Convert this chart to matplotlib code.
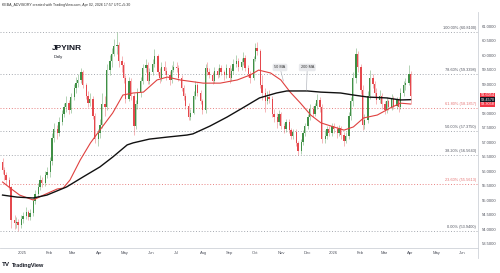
import numpy as np
import pandas as pd
import matplotlib
matplotlib.use("Agg")
import matplotlib.pyplot as plt
import matplotlib.dates as mdates
from matplotlib.lines import Line2D

plt.rcParams["font.family"] = ["Liberation Sans", "DejaVu Sans"]

# ---- candle data, one candle every 2 business days from 2024-12-09 ----
first_open = 56.30
close = [
    # Dec 2024
    56.05, 55.85, 55.70, 55.45, 54.30, 54.20, 54.25, 54.15, 54.35,
    # Jan 2025
    54.45, 54.60, 54.40, 54.55, 54.95, 55.20, 55.45, 55.70, 55.60, 55.85, 55.95,
    # Feb
    56.35, 57.15, 57.45, 57.30, 57.70, 57.95, 58.20, 58.35, 58.10, 58.55,
    # Mar
    58.85, 59.05, 59.15, 59.40, 58.95, 58.60, 58.35, 58.50, 57.90, 57.10, 57.30,
    # Apr
    57.60, 58.30, 58.20, 59.50, 59.80, 60.05, 60.30, 60.35, 59.80, 59.65, 59.20,
    # May
    58.50, 59.10, 58.60, 57.55, 58.30, 58.70, 59.10, 59.55, 59.65, 59.10, 59.40,
    # Jun
    59.70, 59.95, 59.40, 59.20, 59.60, 59.45, 59.30, 59.15, 59.50, 59.60,
    # Jul
    59.55, 59.20, 58.85, 58.60, 58.25, 57.85, 58.00, 58.60, 58.95, 58.70, 58.40, 58.10,
    # Aug
    59.55, 59.40, 59.30, 59.10, 59.45, 59.30, 59.55, 59.40, 59.30, 59.55,
    # Sep
    59.20, 59.45, 59.70, 59.80, 59.60, 59.75, 59.90, 59.55, 59.35, 59.20, 59.85,
    # Oct
    60.25, 60.15, 58.95, 58.70, 58.40, 58.55, 58.50, 57.95, 57.85, 57.70, 57.95, 57.55,
    # Nov
    57.45, 57.70, 57.40, 57.20, 57.35, 56.95, 56.70, 57.00, 57.30, 57.55,
    # Dec
    57.85, 58.15, 57.95, 58.25, 58.45, 58.20, 57.10, 57.20, 57.45, 57.30, 57.55,
    # Jan 2026
    57.45, 57.30, 57.50, 57.25, 57.05, 57.20, 57.90, 58.40, 59.20, 60.05, 59.60,
    # Feb
    58.80, 57.60, 57.75, 58.60, 59.20, 59.00, 58.70, 58.45, 58.60, 58.30,
    # Mar
    58.10, 58.40, 58.20, 58.50, 58.25, 58.45, 58.20, 58.70, 58.95, 59.05, 59.35,
    # Apr
    58.59,
]
high = [
    56.45, 56.15, 55.95, 55.80, 55.50, 54.50, 54.40, 54.35, 54.50,
    54.60, 54.75, 54.65, 54.70, 55.10, 55.35, 55.60, 55.85, 55.80, 56.00, 56.15,
    56.50, 57.30, 57.65, 57.60, 57.85, 58.10, 58.35, 58.60, 58.45, 58.70,
    59.00, 59.25, 59.35, 59.55, 59.50, 59.05, 58.75, 58.70, 58.60, 58.00, 57.45,
    57.80, 58.70, 58.60, 59.70, 60.00, 60.25, 60.55, 60.81, 60.45, 59.95, 59.75,
    59.30, 59.25, 59.20, 58.70, 58.45, 58.85, 59.25, 59.70, 59.85, 59.75, 59.55,
    59.85, 60.20, 60.05, 59.55, 59.75, 59.80, 59.60, 59.45, 59.65, 59.80,
    59.75, 59.65, 59.30, 58.95, 58.70, 58.35, 58.15, 58.75, 59.10, 59.05, 58.80, 58.50,
    59.70, 59.75, 59.55, 59.40, 59.60, 59.55, 59.70, 59.65, 59.50, 59.70,
    59.65, 59.55, 59.85, 60.00, 59.90, 59.90, 60.10, 60.00, 59.65, 59.45, 59.95,
    60.40, 60.45, 60.20, 59.30, 58.85, 58.75, 58.80, 58.60, 58.15, 58.00, 58.10, 58.05,
    57.65, 57.80, 57.80, 57.50, 57.45, 57.45, 57.05, 57.10, 57.40, 57.65,
    57.95, 58.30, 58.25, 58.35, 58.65, 58.55, 58.30, 57.40, 57.55, 57.55, 57.65,
    57.65, 57.55, 57.60, 57.55, 57.35, 57.35, 58.05, 58.55, 59.40, 60.24, 60.15,
    59.70, 58.95, 57.95, 58.75, 59.50, 59.35, 59.10, 58.85, 58.80, 58.70,
    58.40, 58.55, 58.50, 58.65, 58.60, 58.55, 58.55, 58.85, 59.10, 59.20, 59.65,
    59.45,
]
low = [
    55.90, 55.70, 55.55, 55.35, 54.05, 54.00, 54.05, 53.94, 54.05,
    54.20, 54.35, 54.30, 54.30, 54.45, 54.85, 55.10, 55.35, 55.45, 55.50, 55.75,
    55.80, 56.20, 57.00, 57.10, 57.20, 57.60, 57.85, 58.05, 57.95, 58.00,
    58.45, 58.70, 58.90, 59.05, 58.85, 58.50, 58.20, 58.25, 57.80, 56.95, 56.85,
    57.15, 57.50, 57.90, 58.10, 59.30, 59.60, 59.95, 60.05, 59.60, 59.40, 59.05,
    58.35, 58.40, 58.45, 57.25, 57.45, 58.15, 58.55, 59.00, 59.40, 59.00, 59.00,
    59.30, 59.60, 59.30, 59.05, 59.10, 59.35, 59.15, 58.95, 59.05, 59.40,
    59.40, 59.10, 58.75, 58.45, 58.15, 57.75, 57.75, 57.95, 58.50, 58.60, 58.30, 57.95,
    58.00, 59.30, 59.20, 59.00, 59.05, 59.20, 59.25, 59.30, 59.15, 59.20,
    59.05, 59.10, 59.35, 59.60, 59.45, 59.50, 59.65, 59.45, 59.25, 59.05, 59.15,
    59.80, 60.00, 58.85, 58.45, 58.05, 58.30, 58.35, 57.85, 57.70, 57.50, 57.60, 57.45,
    57.30, 57.35, 57.30, 57.10, 57.10, 56.85, 56.55, 56.60, 56.90, 57.20,
    57.45, 57.75, 57.85, 57.90, 58.15, 58.05, 56.95, 56.95, 57.10, 57.20, 57.20,
    57.30, 57.15, 57.20, 57.10, 56.85, 56.95, 57.10, 57.75, 58.25, 59.05, 59.40,
    58.65, 57.40, 57.45, 57.65, 58.50, 58.85, 58.55, 58.30, 58.35, 58.15,
    57.95, 58.00, 58.10, 58.10, 58.15, 58.15, 58.05, 58.15, 58.60, 58.80, 58.95,
    58.30,
]

# ---- moving averages ----
ma50_dates = ["2024-12-09", "2024-12-18", "2024-12-29", "2025-01-14", "2025-01-26",
              "2025-02-11", "2025-02-18", "2025-02-26", "2025-03-10", "2025-03-22",
              "2025-04-02", "2025-04-17", "2025-04-29", "2025-05-11", "2025-05-23",
              "2025-06-08", "2025-06-20", "2025-07-05", "2025-08-01", "2025-08-21",
              "2025-09-10", "2025-09-25", "2025-10-05", "2025-10-19", "2025-10-31",
              "2025-11-11", "2025-11-23", "2025-12-05", "2025-12-17", "2026-01-01",
              "2026-01-13", "2026-01-24", "2026-02-05", "2026-02-21", "2026-03-08",
              "2026-03-20", "2026-04-01"]
ma50_vals = [55.62, 55.41, 55.17, 55.00, 55.17, 55.38, 55.41, 55.69, 56.38, 56.97,
             57.41, 58.00, 58.62, 58.69, 58.72, 59.14, 59.24, 59.14, 59.03, 59.03,
             59.14, 59.31, 59.48, 59.38, 59.14, 58.72, 58.34, 57.93, 57.66, 57.52,
             57.41, 57.52, 57.83, 57.93, 58.17, 58.34, 58.31]
ma200_dates = ["2024-12-09", "2024-12-26", "2025-01-14", "2025-01-30", "2025-02-22",
               "2025-03-13", "2025-04-02", "2025-04-17", "2025-05-04", "2025-05-11",
               "2025-05-30", "2025-06-20", "2025-07-13", "2025-07-20", "2025-08-09",
               "2025-08-29", "2025-09-16", "2025-10-06", "2025-10-26", "2025-11-07",
               "2025-12-01", "2025-12-17", "2026-01-09", "2026-01-24", "2026-02-10",
               "2026-03-04", "2026-03-20", "2026-04-01"]
ma200_vals = [55.17, 55.10, 55.07, 55.17, 55.45, 55.79, 56.14, 56.48, 56.90, 56.97,
              57.10, 57.17, 57.24, 57.28, 57.55, 57.86, 58.17, 58.52, 58.69, 58.76,
              58.76, 58.72, 58.69, 58.62, 58.55, 58.52, 58.45, 58.46]

# ---- fibonacci retracement ----
fib_low, fib_high = 53.94, 60.81
fib_ratios = [0.0, 0.236, 0.382, 0.5, 0.618, 0.786, 1.0]
fib_red = [0.236, 0.618]

# ---- axes ticks ----
month_ticks = ["2025-01-01", "2025-02-01", "2025-03-01", "2025-04-01", "2025-05-01",
               "2025-06-01", "2025-07-01", "2025-08-01", "2025-09-01", "2025-10-01",
               "2025-11-01", "2025-12-01", "2026-01-01", "2026-02-01", "2026-03-01",
               "2026-04-01", "2026-05-01", "2026-06-01"]
month_labels = ["2025", "Feb", "Mar", "Apr", "May", "Jun", "Jul", "Aug", "Sep", "Oct",
                "Nov", "Dec", "2026", "Feb", "Mar", "Apr", "May", "Jun"]
price_ticks = [53.5, 54.0, 54.5, 55.0, 55.5, 56.0, 56.5, 57.0, 57.5, 58.0,
               59.0, 59.5, 60.0, 60.5, 61.0]

last_labels = [(58.6054, "#f23645"), (58.3058, "#f23645"), (58.4570, "#131722")]

UP = "#3f8f45"
DOWN = "#e5484d"

dates = mdates.date2num(pd.bdate_range("2024-12-09", periods=len(close), freq="2B"))
c = np.array(close)
o = np.array([first_open] + close[:-1])
h = np.array(high)
l = np.array(low)
cols = [UP if cc >= oo else DOWN for cc, oo in zip(c, o)]

fig = plt.figure(figsize=(5, 2.73), dpi=100)
fig.patch.set_facecolor("white")
ax = fig.add_axes([0, 1 - 248 / 273, 478 / 500, (248 - 20) / 273])

# candles
ax.vlines(dates, l, h, colors=cols, lw=0.5, alpha=0.55, zorder=3)
body = np.maximum(np.abs(c - o), 0.03)
ax.bar(dates, body, bottom=np.minimum(o, c), width=1.5, color=cols, lw=0, zorder=4)

# moving averages
ax.plot(mdates.date2num(pd.to_datetime(ma50_dates)), ma50_vals, color="#e0413f", lw=0.8, zorder=5)
ax.plot(mdates.date2num(pd.to_datetime(ma200_dates)), ma200_vals, color="#111111", lw=1.0, zorder=5)

# fib levels
for r in fib_ratios:
    v = fib_low + r * (fib_high - fib_low)
    col = "#e57373" if r in fib_red else "#9a9ea6"
    tcol = "#e57373" if r in fib_red else "#50535e"
    ax.axhline(v, color=col, lw=0.6, ls=(0, (1.2, 2.2)), zorder=1)
    ax.annotate(f"{r * 100:.2f}% ({v:.4f})", xy=(0.996, v),
                xycoords=("axes fraction", "data"), xytext=(0, 1.2),
                textcoords="offset points", ha="right", va="bottom",
                fontsize=2.8, color=tcol)

# MA callouts
box = dict(boxstyle="round,pad=0.45,rounding_size=0.4", fc="#e8e9ec", ec="none")
arr = dict(arrowstyle="-", color="#b5b8bf", lw=0.5, shrinkA=0, shrinkB=0)
ax.annotate("50 MA", xy=(mdates.datestr2num("2025-11-03"), 59.10),
            xytext=(mdates.datestr2num("2025-10-30"), 59.57),
            ha="center", va="center", fontsize=2.8, color="#333333",
            bbox=box, arrowprops=arr, zorder=6)
ax.annotate("200 MA", xy=(mdates.datestr2num("2025-11-30"), 58.79),
            xytext=(mdates.datestr2num("2025-12-01"), 59.57),
            ha="center", va="center", fontsize=2.8, color="#333333",
            bbox=box, arrowprops=arr, zorder=6)

ax.set_xlim(mdates.datestr2num("2024-12-06"), mdates.datestr2num("2026-06-19"))
ax.set_ylim(53.345, 61.207)

ax.set_xticks(mdates.date2num(pd.to_datetime(month_ticks)))
ax.set_xticklabels(month_labels)
ax.tick_params(axis="x", length=0, pad=2.2, labelsize=3, labelcolor="#50535e")
ax.yaxis.tick_right()
ax.set_yticks(price_ticks)
ax.set_yticklabels([f"{v:.4f}" for v in price_ticks])
ax.tick_params(axis="y", length=0, pad=2.5, labelsize=3, labelcolor="#50535e")

for s in ["top", "left", "right"]:
    ax.spines[s].set_visible(False)
ax.spines["bottom"].set_color("#cfd2d8")
ax.spines["bottom"].set_linewidth(0.6)
fig.add_artist(Line2D([478 / 500, 478 / 500], [1 - 258 / 273, 1 - 12 / 273],
                      transform=fig.transFigure, color="#cfd2d8", lw=0.6))

# last value labels on the price scale
for v, col in last_labels:
    ax.text(1.005, v, f"{v:.4f}", transform=ax.get_yaxis_transform(),
            ha="left", va="center", fontsize=2.8, color="white", zorder=7,
            clip_on=False,
            bbox=dict(boxstyle="square,pad=0.15", fc=col, ec="none"))

# titles / texts
fig.text(0.004, 1 - 5 / 273, "KEBA_ADVISORY created with TradingView.com, Apr 02, 2026 17:57 UTC+5:30",
         fontsize=2.6, color="#333333", va="center", ha="left")
fig.text(52 / 500, 1 - 48.5 / 273, "JPYINR", fontsize=6, fontweight="bold",
         color="#131722", va="center", ha="left")
fig.text(54 / 500, 1 - 57 / 273, "Daily", fontsize=3, color="#131722",
         va="center", ha="left")
fig.text(2 / 500, 1 - 265 / 273, "TV", fontsize=4.5, fontweight="bold",
         color="#131722", va="center", ha="left")
fig.text(12 / 500, 1 - 265 / 273, "TradingView", fontsize=4.0, fontweight="bold",
         color="#131722", va="center", ha="left")

plt.savefig("out.png", dpi=100, facecolor="white")
